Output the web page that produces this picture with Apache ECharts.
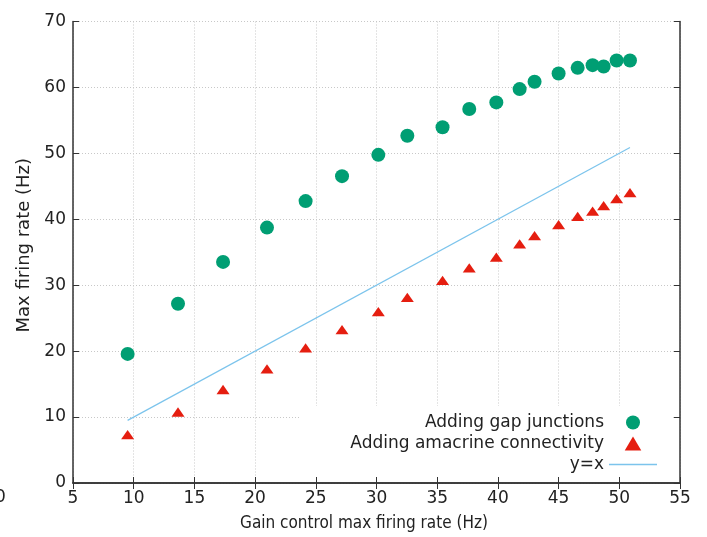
<!DOCTYPE html>
<html>
<head>
<meta charset="utf-8">
<script src="https://cdn.jsdelivr.net/npm/echarts@6/dist/echarts.min.js"></script>
<style>
html,body{margin:0;padding:0;background:#fff;}
#chart{width:707px;height:537px;}
</style>
</head>
<body>
<div id="chart"></div>
<script>
var gainRate = [9.50, 13.65, 17.36, 20.98, 24.16, 27.16, 30.15, 32.54, 35.44, 37.64, 39.87, 41.79, 43.02, 45.00, 46.57, 47.80, 48.71, 49.78, 50.88];
var gapJunctions = [19.58, 27.18, 33.54, 38.74, 42.76, 46.54, 49.77, 52.68, 53.95, 56.73, 57.73, 59.75, 60.86, 62.11, 62.97, 63.38, 63.17, 64.08, 64.08];
var amacrine = [7.33, 10.77, 14.18, 17.31, 20.49, 23.25, 25.98, 28.15, 30.72, 32.63, 34.25, 36.26, 37.53, 39.19, 40.44, 41.25, 42.06, 43.12, 44.03];
var identityX = [9.50, 50.88];
var seriesNames = ['Adding gap junctions', 'Adding amacrine connectivity', 'y=x'];

function pairs(xs, ys) { return xs.map(function (x, i) { return [x, ys[i]]; }); }

var FONT = 'DejaVu Sans';
var TRI = 'path://M0,11L6.5,0L13,11Z';
var LINEICON = 'path://M0,0L48,0L48,1.3L0,1.3Z';
var chart = echarts.init(document.getElementById('chart'), null, {renderer: 'canvas'});
var gridLeft = 73, gridTop = 21.5, gridW = 607, gridH = 463;
var axisLineStyle = {color: '#333', width: 1.5};
var option = {
  backgroundColor: '#fff',
  animation: false,
  grid: {left: gridLeft, top: gridTop, width: gridW, height: gridH},
  xAxis: [{
    type: 'value', min: 5, max: 55, interval: 5, position: 'bottom',
    name: 'Gain control max firing rate (Hz)', nameLocation: 'middle', nameGap: 32,
    nameTextStyle: {fontFamily: '"DejaVu Sans Condensed", "DejaVu Sans"', fontSize: 17, color: '#222', padding: [0, 25, 0, 0]},
    axisLine: {show: true, lineStyle: axisLineStyle},
    axisTick: {show: true, inside: true, length: 6, lineStyle: {color: '#333', width: 1}},
    axisLabel: {fontFamily: FONT, fontSize: 17, color: '#222', margin: 7},
    splitLine: {show: true, lineStyle: {color: '#c8c8c8', type: [1, 2], width: 1}}
  }, {
    type: 'value', min: 5, max: 55, interval: 5, position: 'top',
    axisLine: {show: true, lineStyle: axisLineStyle},
    axisTick: {show: true, inside: true, length: 6, lineStyle: {color: '#333', width: 1}},
    axisLabel: {show: false}, splitLine: {show: false}
  }],
  yAxis: [{
    type: 'value', min: 0, max: 70, interval: 10, position: 'left',
    name: 'Max firing rate (Hz)', nameLocation: 'middle', nameGap: 27,
    nameTextStyle: {fontFamily: FONT, fontSize: 18, color: '#222', padding: [0, 0, 0, 14]},
    axisLine: {show: true, lineStyle: axisLineStyle},
    axisTick: {show: true, inside: true, length: 6, lineStyle: {color: '#333', width: 1}},
    axisLabel: {fontFamily: FONT, fontSize: 17, color: '#222', margin: 7},
    splitLine: {show: true, lineStyle: {color: '#c8c8c8', type: [1, 2], width: 1}}
  }, {
    type: 'value', min: 0, max: 70, interval: 10, position: 'right',
    axisLine: {show: true, lineStyle: axisLineStyle},
    axisTick: {show: true, inside: true, length: 6, lineStyle: {color: '#333', width: 1}},
    axisLabel: {show: false}, splitLine: {show: false}
  }],
  legend: {
    orient: 'vertical', align: 'right', right: 45, top: 409,
    itemWidth: 48, itemHeight: 14, itemGap: 4, symbolKeepAspect: true,
    textStyle: {fontFamily: FONT, fontSize: 17, color: '#222'},
    data: [
      {name: seriesNames[0], icon: 'circle'},
      {name: seriesNames[1], icon: TRI},
      {name: seriesNames[2], icon: LINEICON}
    ]
  },
  graphic: [
    {type: 'rect', shape: {x: 300, y: 406, width: 372, height: 71}, style: {fill: '#fff'}, z: 1, silent: true},
    {type: 'text', x: -5, y: 489, style: {text: '0', font: '17px "DejaVu Sans"', fill: '#222'}, z: 5}
  ],
  series: [{
    name: seriesNames[0], type: 'scatter', xAxisIndex: 0, yAxisIndex: 0,
    symbol: 'circle', symbolSize: 14,
    itemStyle: {color: '#009e73', opacity: 1},
    data: pairs(gainRate, gapJunctions), z: 3
  }, {
    name: seriesNames[1], type: 'scatter', xAxisIndex: 0, yAxisIndex: 0,
    symbol: TRI, symbolSize: [13, 11], symbolKeepAspect: true,
    itemStyle: {color: '#e51e10', opacity: 1},
    data: pairs(gainRate, amacrine), z: 3
  }, {
    name: seriesNames[2], type: 'line', xAxisIndex: 0, yAxisIndex: 0,
    showSymbol: false, symbol: 'none',
    lineStyle: {color: '#7cc4ec', width: 1.2},
    itemStyle: {color: '#7cc4ec'},
    data: pairs(identityX, identityX), z: 2
  }]
};
chart.setOption(option);
</script>
</body>
</html>
